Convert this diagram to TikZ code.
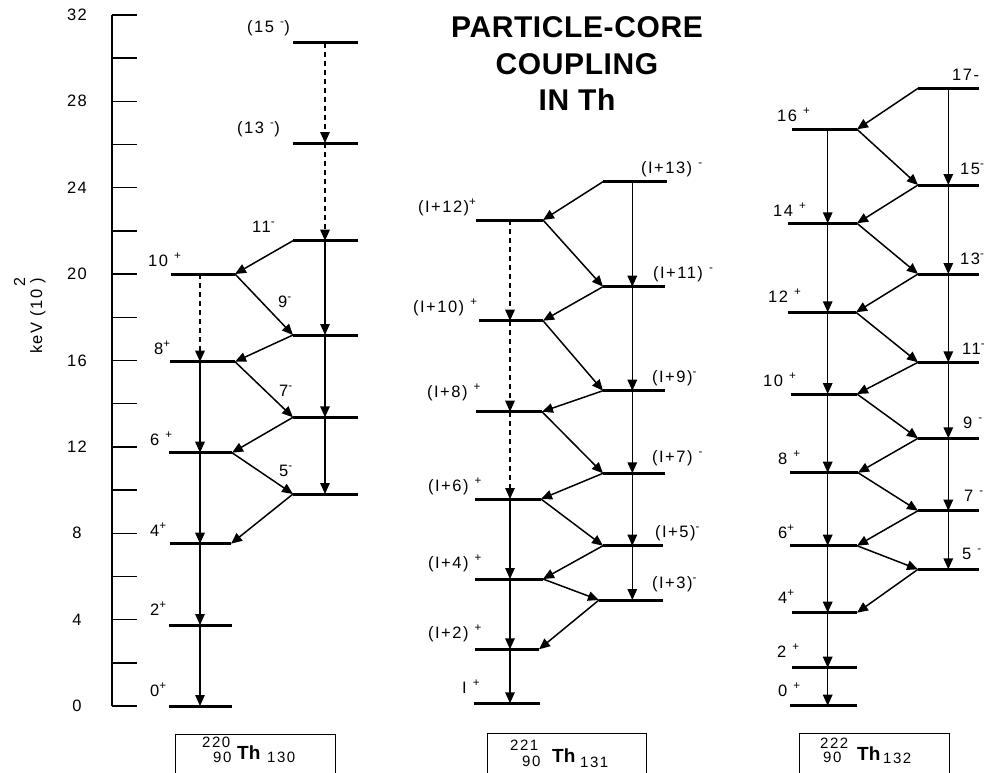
\documentclass[tikz,border=0pt]{standalone}
\usepackage{fontspec}
\setmainfont{Liberation Sans}
\newfontfamily\lblfont[LetterSpace=9]{Liberation Sans}
\newfontfamily\boxfont[LetterSpace=10]{Liberation Sans}
\newfontfamily\titlefont[LetterSpace=2]{Liberation Sans}
\usetikzlibrary{arrows.meta}
\newcommand\Pl{\textsuperscript{+}}
\newcommand\Mi{\textsuperscript{-}}
\newcommand\lvl[5]{%
  \coordinate (#1L) at (#2,#5);
  \coordinate (#1R) at (#3,#5);
  \coordinate (#1T) at (#4,#5);
  \draw[lev] (#1L) -- (#1R);}
\tikzset{
  lev/.style={line width=3pt},
  tr/.style={line width=1.5pt, -{Triangle[length=11pt,width=9.5pt]}},
  trd/.style={tr, dash pattern=on 5pt off 4pt},
  lab/.style={font=\lblfont\fontsize{16.5}{18}\selectfont, inner sep=0pt, anchor=base west},
  tick/.style={line width=1.4pt},
  ticklab/.style={font=\lblfont\fontsize{16.5}{18}\selectfont, inner sep=0pt},
  title/.style={font=\titlefont\fontsize{30}{32}\selectfont\bfseries, inner sep=0pt},
  boxnum/.style={font=\boxfont\fontsize{15}{17}\selectfont, inner sep=0pt, anchor=base west},
  boxth/.style={font=\fontsize{19}{20}\selectfont\bfseries, inner sep=0pt, anchor=base west},
  nucbox/.style={draw, line width=1.3pt, anchor=north west, minimum height=80pt, inner sep=0pt}
}
\begin{document}
\begin{tikzpicture}[x=1pt,y=-1pt]
\useasboundingbox (0,0) rectangle (990,772);
\clip (0,0) rectangle (990,772);
% ---------- axis ----------
\coordinate (axtop) at (112,14.7);
\coordinate (axbot) at (112,706);
\draw[tick] (axtop) -- (axbot);
\foreach \k in {0,...,16}{
  \draw[tick] (112,706-\k*43.2) -- (137,706-\k*43.2);
}
\foreach \k in {0,4,...,32}{
  \node[ticklab] (t\k) at (77,706-\k*21.6) {\k};
}
\node[lab, rotate=90, anchor=base] (axlab) at (42,316)
  {keV (10\hspace{3pt}\rlap{\raisebox{17pt}{\fontsize{16}{16}\selectfont 2}}\hspace{3pt})};
% ---------- title ----------
\node[title] (ti1) at (577,27) {PARTICLE-CORE};
\node[title] (ti2) at (577,64) {COUPLING};
\node[title] (ti3) at (577,100) {IN Th};
% ================= 220Th =================
\lvl{a0}{169}{232}{200}{706}
\lvl{a2}{169}{232}{200}{625}
\lvl{a4}{170}{231}{200}{543.7}
\lvl{a6}{169}{232}{200}{452.7}
\lvl{a8}{170}{235}{200}{361.7}
\lvl{a10}{171}{235}{200}{274}
\lvl{a5}{293}{358}{325}{494}
\lvl{a7}{293}{358}{325}{417.3}
\lvl{a9}{293}{358}{325}{335}
\lvl{a11}{293}{358}{325}{240.7}
\lvl{a13}{293}{358}{325}{143}
\lvl{a15}{293}{358}{325}{42.7}
\draw[trd] (a15T) -- (a13T);
\draw[trd] (a13T) -- (a11T);
\draw[tr] (a11T) -- (a9T);
\draw[tr] (a9T) -- (a7T);
\draw[tr] (a7T) -- (a5T);
\draw[trd] (a10T) -- (a8T);
\draw[tr] (a8T) -- (a6T);
\draw[tr] (a6T) -- (a4T);
\draw[tr] (a4T) -- (a2T);
\draw[tr] (a2T) -- (a0T);
\draw[tr] (a11L) -- (a10R);
\draw[tr] (a10R) -- (a9L);
\draw[tr] (a9L) -- (a8R);
\draw[tr] (a8R) -- (a7L);
\draw[tr] (a7L) -- (a6R);
\draw[tr] (a6R) -- (a5L);
\draw[tr] (a5L) -- (a4R);
\node[lab] (la15) at (247,32) {(15 \Mi)};
\node[lab] (la13) at (237,133) {(13 \Mi)};
\node[lab] (la11) at (252,232) {11\Mi};
\node[lab] (la10) at (148,266) {10 \Pl};
\node[lab] (la9) at (278,307) {9\Mi};
\node[lab] (la8) at (154,354) {8\Pl};
\node[lab] (la7) at (279,396) {7\Mi};
\node[lab] (la6) at (150,445) {6 \Pl};
\node[lab] (la5) at (279,476) {5\Mi};
\node[lab] (la4) at (150,536) {4\Pl};
\node[lab] (la2) at (150,615) {2\Pl};
\node[lab] (la0) at (150,696) {0\Pl};
\node[nucbox, minimum width=160pt] (boxa) at (175,734) {};
\node[boxnum] (boxaA) at (202,747) {220};
\node[boxnum] (boxaZ) at (213,762) {90};
\node[boxth] (boxaT) at (237,759) {Th};
\node[boxnum] (boxaN) at (267,762) {130};
% ================= 221Th =================
\lvl{b0}{474}{540}{510}{703.3}
\lvl{b2}{475}{539}{510}{649.3}
\lvl{b4}{475}{543}{510}{579}
\lvl{b6}{475}{541}{510}{499}
\lvl{b8}{476}{542}{510}{411.7}
\lvl{b10}{479}{543}{510}{320.7}
\lvl{b12}{476}{543}{510}{220}
\lvl{b3}{599}{663}{632.3}{600}
\lvl{b5}{603}{663}{632.3}{545.7}
\lvl{b7}{603}{665}{632.3}{473.3}
\lvl{b9}{603}{665}{632.3}{390.7}
\lvl{b11}{603}{665}{632.3}{286.7}
\lvl{b13}{603}{667}{632.3}{181.7}
\draw[trd] (b12T) -- (b10T);
\draw[trd] (b10T) -- (b8T);
\draw[trd] (b8T) -- (b6T);
\draw[tr] (b6T) -- (b4T);
\draw[tr] (b4T) -- (b2T);
\draw[tr] (b2T) -- (b0T);
\draw[tr] (b13T) -- (b11T);
\draw[tr] (b11T) -- (b9T);
\draw[tr] (b9T) -- (b7T);
\draw[tr] (b7T) -- (b5T);
\draw[tr] (b5T) -- (b3T);
\draw[tr] (b13L) -- (b12R);
\draw[tr] (b12R) -- (b11L);
\draw[tr] (b11L) -- (b10R);
\draw[tr] (b10R) -- (b9L);
\draw[tr] (b9L) -- (b8R);
\draw[tr] (b8R) -- (b7L);
\draw[tr] (b7L) -- (b6R);
\draw[tr] (b6R) -- (b5L);
\draw[tr] (b5L) -- (b4R);
\draw[tr] (b4R) -- (b3L);
\draw[tr] (b3L) -- (b2R);
\node[lab] (lb13) at (641,173) {(I+13) \Mi};
\node[lab] (lb12) at (418,212) {(I+12)\Pl};
\node[lab] (lb11) at (653,278) {(I+11) \Mi};
\node[lab] (lb10) at (413,312) {(I+10) \Pl};
\node[lab] (lb9) at (652,382) {(I+9)\Mi};
\node[lab] (lb8) at (427,397) {(I+8) \Pl};
\node[lab] (lb7) at (652,462) {(I+7) \Mi};
\node[lab] (lb6) at (428,491) {(I+6) \Pl};
\node[lab] (lb5) at (655,537) {(I+5)\Mi};
\node[lab] (lb4) at (428,568) {(I+4) \Pl};
\node[lab] (lb3) at (652,588) {(I+3)\Mi};
\node[lab] (lb2) at (428,638) {(I+2) \Pl};
\node[lab] (lb0) at (462,693) {I \Pl};
\node[nucbox, minimum width=159pt] (boxb) at (487,733) {};
\node[boxnum] (boxbA) at (510,750) {221};
\node[boxnum] (boxbZ) at (522,766) {90};
\node[boxth] (boxbT) at (552,762) {Th};
\node[boxnum] (boxbN) at (580,767) {131};
% ================= 222Th =================
\lvl{c0}{790}{857}{827.7}{705.7}
\lvl{c2}{792}{857}{827.7}{667.7}
\lvl{c4}{792}{857}{827.7}{612.7}
\lvl{c6}{790}{857}{827.7}{545.7}
\lvl{c8}{790}{858}{827.7}{472.7}
\lvl{c10}{791}{857}{827.7}{394}
\lvl{c12}{788}{856}{827.7}{312.3}
\lvl{c14}{788}{857}{827.7}{223.3}
\lvl{c16}{792}{857}{827.7}{129.3}
\lvl{c5}{918}{979}{948.3}{569.3}
\lvl{c7}{918}{979}{948.3}{510.7}
\lvl{c9}{918}{979}{948.3}{438.3}
\lvl{c11}{918}{979}{948.3}{362.3}
\lvl{c13}{918}{979}{948.3}{274}
\lvl{c15}{918}{979}{948.3}{185}
\lvl{c17}{918}{979}{948.3}{88.3}
\draw[tr] (c16T) -- (c14T);
\draw[tr] (c14T) -- (c12T);
\draw[tr] (c12T) -- (c10T);
\draw[tr] (c10T) -- (c8T);
\draw[tr] (c8T) -- (c6T);
\draw[tr] (c6T) -- (c4T);
\draw[tr] (c4T) -- (c2T);
\draw[tr] (c2T) -- (c0T);
\draw[tr] (c17T) -- (c15T);
\draw[tr] (c15T) -- (c13T);
\draw[tr] (c13T) -- (c11T);
\draw[tr] (c11T) -- (c9T);
\draw[tr] (c9T) -- (c7T);
\draw[tr] (c7T) -- (c5T);
\draw[tr] (c17L) -- (c16R);
\draw[tr] (c16R) -- (c15L);
\draw[tr] (c15L) -- (c14R);
\draw[tr] (c14R) -- (c13L);
\draw[tr] (c13L) -- (c12R);
\draw[tr] (c12R) -- (c11L);
\draw[tr] (c11L) -- (c10R);
\draw[tr] (c10R) -- (c9L);
\draw[tr] (c9L) -- (c8R);
\draw[tr] (c8R) -- (c7L);
\draw[tr] (c7L) -- (c6R);
\draw[tr] (c6R) -- (c5L);
\draw[tr] (c5L) -- (c4R);
\node[lab] (lc17) at (952,80) {17-};
\node[lab] (lc16) at (777,121) {16 \Pl};
\node[lab] (lc15) at (960,174) {15\Mi};
\node[lab] (lc14) at (773,216) {14 \Pl};
\node[lab] (lc13) at (960,264) {13\Mi};
\node[lab] (lc12) at (768,302) {12 \Pl};
\node[lab] (lc11) at (962,354) {11\Mi};
\node[lab] (lc10) at (763,386) {10 \Pl};
\node[lab] (lc9) at (963,428) {9 \Mi};
\node[lab] (lc8) at (778,464) {8 \Pl};
\node[lab] (lc7) at (964,501) {7 \Mi};
\node[lab] (lc6) at (778,538) {6\Pl};
\node[lab] (lc5) at (962,559) {5 \Mi};
\node[lab] (lc4) at (778,603) {4\Pl};
\node[lab] (lc2) at (777,657) {2 \Pl};
\node[lab] (lc0) at (778,696) {0 \Pl};
\node[nucbox, minimum width=150pt] (boxc) at (799,733) {};
\node[boxnum] (boxcA) at (820,748) {222};
\node[boxnum] (boxcZ) at (823,762) {90};
\node[boxth] (boxcT) at (857,760) {Th};
\node[boxnum] (boxcN) at (883,763) {132};
\end{tikzpicture}
\end{document}
